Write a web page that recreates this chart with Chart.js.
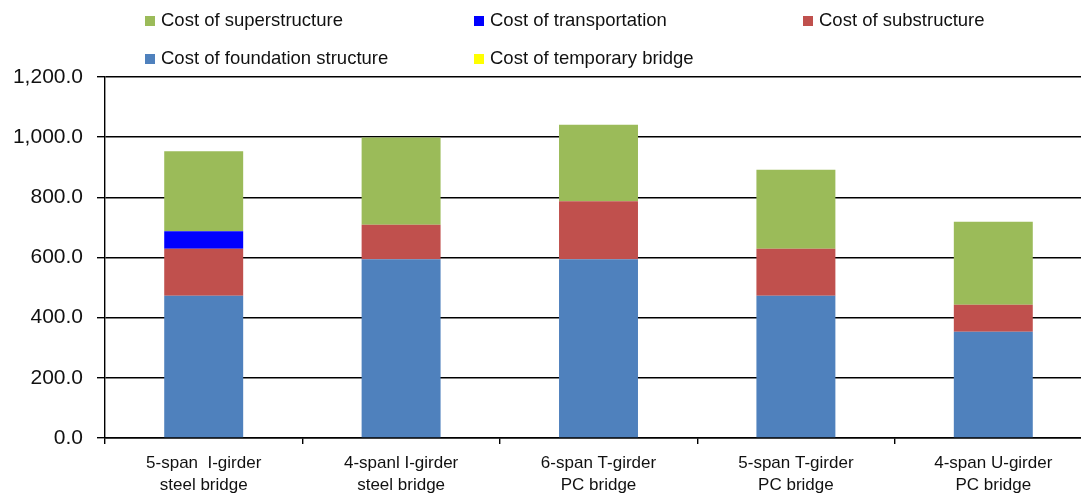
<!DOCTYPE html>
<html>
<head>
<meta charset="utf-8">
<script src="https://cdn.jsdelivr.net/npm/chart.js@4/dist/chart.umd.min.js"></script>
<style>
  html, body { margin: 0; padding: 0; background: #fff; overflow: hidden; }
  #wrap { position: relative; width: 1100px; height: 493px; }
</style>
</head>
<body>
<div id="wrap"><canvas id="chart" width="1100" height="493"></canvas></div>
<script>
// Bridge types (two-line category labels)
const categories = [
  ["5-span  I-girder", "steel bridge"],
  ["4-spanl I-girder", "steel bridge"],
  ["6-span T-girder", "PC bridge"],
  ["5-span T-girder", "PC bridge"],
  ["4-span U-girder", "PC bridge"]
];

// Cost components, stacked from the bottom up
const foundationCost     = [473, 594, 594, 473, 353];
const substructureCost   = [156, 115, 193, 156,  90];
const transportationCost = [ 58,   0,   0,   0,   0];
const superstructureCost = [266, 290, 254, 263, 276];
const temporaryBridgeCost = [  0,   0,   0,   0,   0];

// Value axis
const yMin = 0;
const yMax = 1200;
const yStep = 200;

const FONT = "'Liberation Sans', Arial, sans-serif";

const datasets = [
  { label: "Cost of foundation structure", data: foundationCost,      backgroundColor: "#4F81BD" },
  { label: "Cost of substructure",         data: substructureCost,    backgroundColor: "#C0504D" },
  { label: "Cost of transportation",       data: transportationCost,  backgroundColor: "#0000FF" },
  { label: "Cost of superstructure",       data: superstructureCost,  backgroundColor: "#9BBB59" },
  { label: "Cost of temporary bridge",     data: temporaryBridgeCost, backgroundColor: "#FFFF00" }
];

// Fixed-column legend: [dataset index, x, y] of each swatch
const legendSlots = [
  [3, 145, 16], [2, 474, 16], [1, 803, 16],
  [0, 145, 54], [4, 474, 54]
];

const gridLegend = {
  id: "gridLegend",
  afterDraw(chart) {
    const ctx = chart.ctx;
    ctx.save();
    ctx.font = "18.5px " + FONT;
    ctx.textBaseline = "middle";
    ctx.textAlign = "left";
    legendSlots.forEach(([i, x, y]) => {
      const ds = chart.data.datasets[i];
      ctx.fillStyle = ds.backgroundColor;
      ctx.fillRect(x, y, 10, 10);
      ctx.fillStyle = "#111";
      ctx.fillText(ds.label, x + 16, y + 5);
    });
    ctx.restore();
  }
};

new Chart(document.getElementById("chart"), {
  type: "bar",
  data: { labels: categories, datasets: datasets },
  plugins: [gridLegend],
  options: {
    responsive: false,
    animation: false,
    devicePixelRatio: 1,
    layout: { padding: { top: 77, right: 8, left: 0, bottom: 0 } },
    plugins: { legend: { display: false }, tooltip: { enabled: false } },
    datasets: { bar: { barPercentage: 0.4, categoryPercentage: 1.0, borderWidth: 0 } },
    scales: {
      x: {
        stacked: true,
        afterFit(scale) { scale.height = 55; },
        grid: {
          offset: true,
          drawOnChartArea: false,
          drawTicks: true,
          tickLength: 6,
          color: "#000",
          lineWidth: 1.4
        },
        border: { display: true, color: "#000", width: 1.4 },
        ticks: {
          color: "#111",
          padding: 9,
          maxRotation: 0,
          autoSkip: false,
          font: { family: FONT, size: 17, lineHeight: 1.25 }
        }
      },
      y: {
        stacked: true,
        min: yMin,
        max: yMax,
        afterFit(scale) { scale.width = 105; },
        grid: {
          color: "#000",
          lineWidth: 1.4,
          drawTicks: true,
          tickLength: 8
        },
        border: { display: true, color: "#000", width: 1.4 },
        ticks: {
          stepSize: yStep,
          color: "#111",
          padding: 14,
          font: { family: FONT, size: 21 },
          callback: v => Number(v).toLocaleString("en-US", { minimumFractionDigits: 1, maximumFractionDigits: 1 })
        }
      }
    }
  }
});
</script>
</body>
</html>
